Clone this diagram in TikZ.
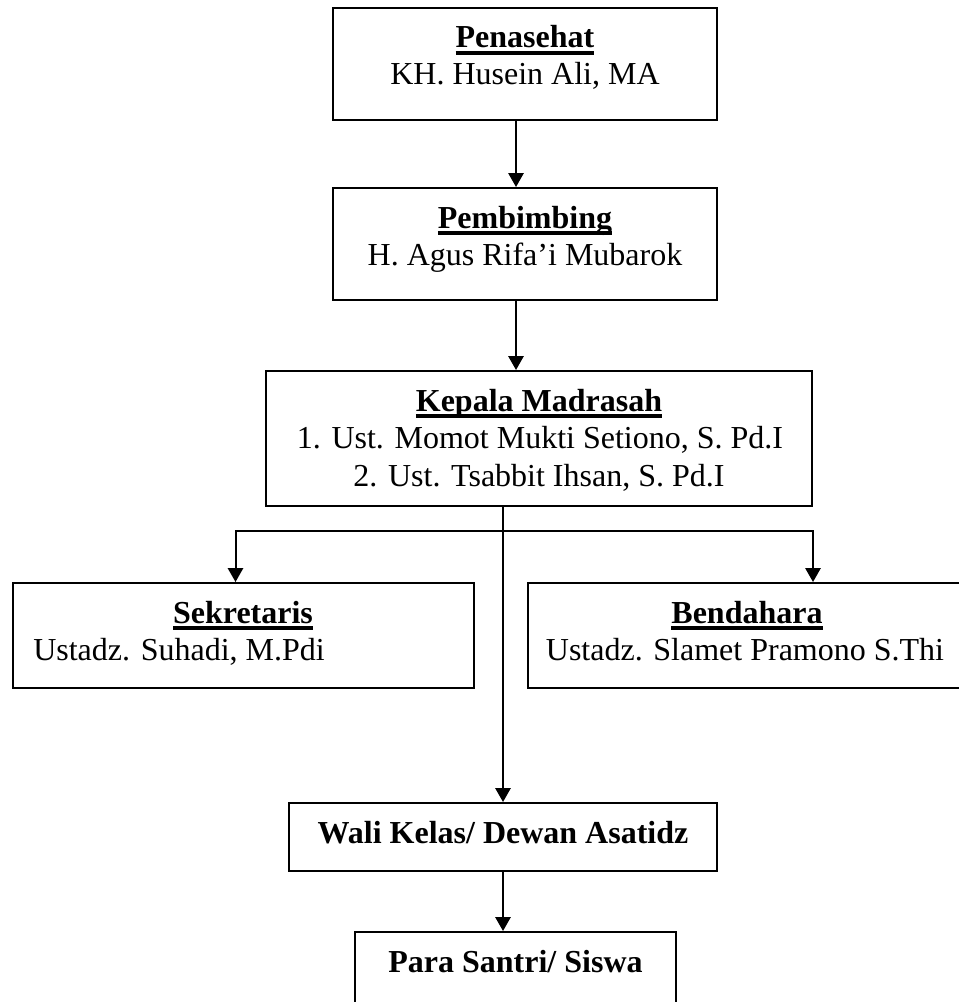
\documentclass[tikz,border=0pt]{standalone}
\usepackage{fontspec}
\setmainfont{Liberation Serif}
\usetikzlibrary{arrows.meta}
\newcommand\myul[1]{\sbox0{#1}\rlap{\rule[-5pt]{\wd0}{2.4pt}}\usebox0}
\tikzset{
  boxnode/.style={draw, line width=1.5pt, inner sep=0pt, rectangle},
  txt/.style={anchor=base, inner sep=0pt, font=\fontsize{24}{28}\selectfont},
  txtl/.style={anchor=base west, inner sep=0pt, font=\fontsize{24}{28}\selectfont},
  arr/.style={line width=1.5pt, -{Triangle[width=11.5pt,length=10.5pt]}},
}
\begin{document}
\begin{tikzpicture}[x=0.75pt,y=-0.75pt]
\useasboundingbox (0,0) rectangle (959,1002);
\fill[white] (0,0) rectangle (959,1002);
% boxes
\node[boxnode, minimum width=288pt, minimum height=84pt] (b1) at (525,64) {};
\node[boxnode, minimum width=288pt, minimum height=84pt] (b2) at (525,244) {};
\node[boxnode, minimum width=409.5pt, minimum height=101.25pt] (b3) at (539,438.5) {};
\node[boxnode, minimum width=345.75pt, minimum height=78.75pt] (sek) at (243.5,635.5) {};
\node[boxnode, minimum width=327.75pt, minimum height=78.75pt] (bend) at (746.5,635.5) {};
\node[boxnode, minimum width=321pt, minimum height=51pt] (wali) at (503,837) {};
\node[boxnode, minimum width=240.75pt, minimum height=60pt] (para) at (515.5,972) {};
% texts
\node[txt] (t1a) at (525,48) {\bfseries\myul{Penasehat}};
\node[txt] (t1b) at (525,85) {KH. Husein Ali, MA};
\node[txt] (t2a) at (525,228) {\bfseries\myul{Pembimbing}};
\node[txt] (t2b) at (525,265) {H. Agus Rifa’i Mubarok};
\node[txt] (t3a) at (539,411) {\bfseries\myul{Kepala Madrasah}};
\node[txt] (t3b) at (540,448) {1. Ust. Momot Mukti Setiono, S. Pd.I};
\node[txt] (t3c) at (539,486) {2. Ust. Tsabbit Ihsan, S. Pd.I};
\node[txt] (t4a) at (243,623) {\bfseries\myul{Sekretaris}};
\node[txtl] (t4b) at (33,660) {Ustadz. Suhadi, M.Pdi};
\node[txt] (t5a) at (747,623) {\bfseries\myul{Bendahara}};
\node[txt] (t5b) at (745,660) {Ustadz. Slamet Pramono S.Thi};
\node[txt] (t6) at (503,843) {\bfseries Wali Kelas/ Dewan Asatidz};
\node[txt] (t7) at (515.5,972) {\bfseries Para Santri/ Siswa};
% connectors
\draw[arr] ([xshift=-6.75pt]b1.south) -- ([xshift=-6.75pt]b2.north);
\draw[arr] ([xshift=-6.75pt]b2.south) -- ([xshift=-6.75pt]b2.south |- b3.north);
\coordinate (br) at (b3.south -| wali.north);
\coordinate (brj) at ([yshift=-18pt]br);
\draw[line width=1.5pt] (br) -- (brj);
\draw[arr] (brj) -| ([xshift=-6pt]sek.north);
\draw[arr] (brj) -| (b3.east |- bend.north);
\draw[arr] (brj) -- (wali.north);
\draw[arr] (wali.south) -- (wali.south |- para.north);
\end{tikzpicture}
\end{document}
